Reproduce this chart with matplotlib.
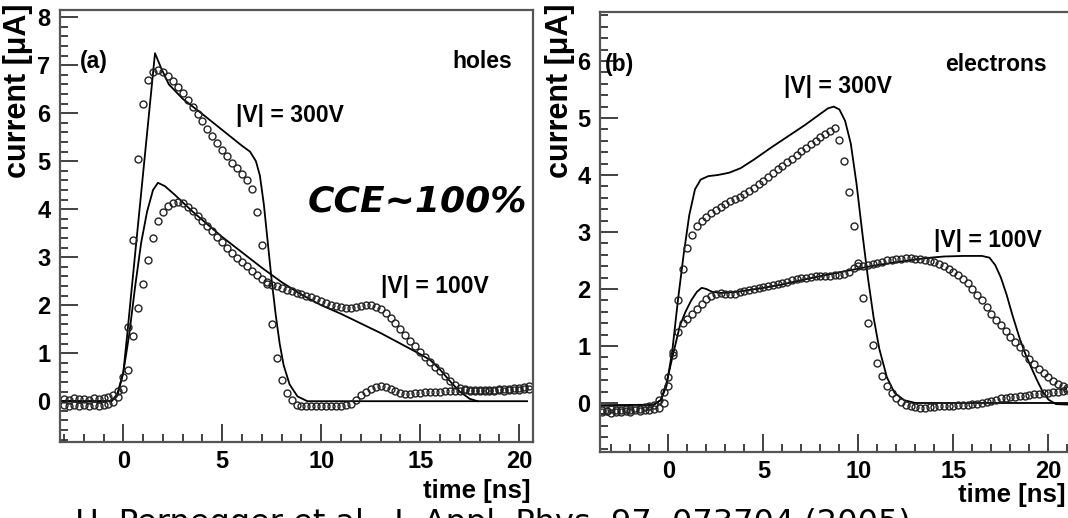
import numpy as np
import matplotlib
matplotlib.use("Agg")
import matplotlib.pyplot as plt
from matplotlib.ticker import MultipleLocator

plt.rcParams['font.family'] = ['Liberation Sans', 'DejaVu Sans']

# ---------------- data: panel (a), holes ----------------
t_a = np.arange(-3.0, 20.5 + 1e-9, 0.25)

holes_300_meas = [
    0.05, 0.03, 0.06, 0.04, 0.05, 0.03, 0.06, 0.04, 0.06, 0.08,
    0.12, 0.22, 0.50, 1.55, 3.35, 5.05, 6.20, 6.70, 6.85, 6.90,
    6.85, 6.78, 6.68, 6.55, 6.42, 6.28, 6.13, 5.98, 5.83, 5.68,
    5.53, 5.38, 5.24, 5.10, 4.97, 4.85, 4.73, 4.60, 4.42, 3.95,
    3.25, 2.45, 1.60, 0.90, 0.45, 0.18, 0.02, -0.07, -0.10, -0.11,
    -0.10, -0.11, -0.10, -0.11, -0.10, -0.10, -0.09, -0.08, -0.05, 0.02,
    0.12, 0.20, 0.26, 0.30, 0.31, 0.29, 0.25, 0.21, 0.18, 0.16,
    0.16, 0.17, 0.18, 0.19, 0.19, 0.20, 0.20, 0.21, 0.21, 0.22,
    0.22, 0.23, 0.22, 0.23, 0.23, 0.24, 0.23, 0.24, 0.25, 0.25,
    0.26, 0.27, 0.28, 0.30, 0.31,
]
holes_100_meas = [
    -0.08, -0.10, -0.07, -0.09, -0.08, -0.10, -0.07, -0.09, -0.08, -0.06,
    -0.02, 0.08, 0.25, 0.65, 1.35, 1.95, 2.45, 2.95, 3.40, 3.75,
    3.95, 4.07, 4.13, 4.15, 4.12, 4.05, 3.96, 3.86, 3.76, 3.65,
    3.54, 3.43, 3.32, 3.20, 3.09, 2.99, 2.90, 2.81, 2.72, 2.63,
    2.55, 2.48, 2.43, 2.39, 2.35, 2.32, 2.29, 2.26, 2.23, 2.20,
    2.17, 2.13, 2.09, 2.05, 2.01, 1.98, 1.96, 1.95, 1.95, 1.96,
    1.98, 2.00, 2.00, 1.97, 1.92, 1.84, 1.74, 1.62, 1.50, 1.38,
    1.26, 1.14, 1.02, 0.92, 0.82, 0.72, 0.62, 0.52, 0.42, 0.34,
    0.28, 0.25, 0.23, 0.22, 0.22, 0.21, 0.22, 0.22, 0.23, 0.22,
    0.23, 0.24, 0.24, 0.25, 0.26,
]

holes_300_sim_t = [-3.2, -0.6, -0.3, 0.0, 0.2, 0.4, 0.7, 1.0, 1.3, 1.6, 1.9, 2.3,
                   3.0, 4.0, 5.0, 6.0, 6.4, 6.7, 6.9, 7.1, 7.3, 7.5, 7.7, 7.9,
                   8.1, 8.4, 8.8, 9.3, 20.4]
holes_300_sim = [0.0, 0.0, 0.15, 0.6, 1.4, 2.25, 3.5, 4.75, 6.0, 7.25, 6.95, 6.6,
                 6.3, 5.98, 5.65, 5.32, 5.2, 5.0, 4.7, 4.1, 3.3, 2.5, 1.8, 1.2,
                 0.75, 0.35, 0.1, 0.0, 0.0]

holes_100_sim_t = [-3.2, -0.6, -0.3, 0.0, 0.3, 0.6, 0.9, 1.2, 1.5, 1.75, 2.1, 2.6,
                   3.5, 5.0, 6.0, 7.0, 8.0, 9.0, 10.0, 11.0, 12.0, 13.0, 14.0,
                   15.0, 15.5, 16.0, 16.5, 17.0, 17.5, 17.9]
holes_100_sim = [0.0, 0.0, 0.12, 0.6, 1.4, 2.4, 3.3, 3.95, 4.4, 4.55, 4.48, 4.3,
                 3.95, 3.42, 3.1, 2.78, 2.48, 2.22, 2.0, 1.82, 1.62, 1.42, 1.2,
                 0.98, 0.86, 0.66, 0.42, 0.2, 0.05, 0.0]

# ---------------- data: panel (b), electrons ----------------
t_b = np.arange(-3.5, 21.0 + 1e-9, 0.25)

elec_300_meas = [
    -0.12, -0.14, -0.11, -0.13, -0.12, -0.10, -0.12, -0.09, -0.10, -0.07, -0.06, -0.03,
    0.05, 0.20, 0.45, 0.85, 1.80, 2.35, 2.72, 2.95, 3.10, 3.19,
    3.26, 3.33, 3.39, 3.44, 3.49, 3.54, 3.58, 3.62, 3.67, 3.72,
    3.78, 3.84, 3.90, 3.97, 4.04, 4.10, 4.16, 4.22, 4.28, 4.35,
    4.42, 4.48, 4.54, 4.60, 4.66, 4.72, 4.78, 4.82, 4.62, 4.25,
    3.70, 3.10, 2.45, 1.85, 1.40, 1.02, 0.70, 0.48, 0.30, 0.17,
    0.08, 0.02, -0.03, -0.06, -0.07, -0.08, -0.08, -0.07, -0.07, -0.06,
    -0.06, -0.05, -0.05, -0.04, -0.04, -0.03, -0.02, -0.01, 0.00, 0.02,
    0.04, 0.06, 0.08, 0.09, 0.10, 0.11, 0.12, 0.13, 0.14, 0.15,
    0.16, 0.17, 0.18, 0.19, 0.20, 0.21, 0.22,
]
elec_100_meas = [
    -0.16, -0.14, -0.17, -0.15, -0.16, -0.14, -0.15, -0.13, -0.14, -0.12, -0.13, -0.10,
    -0.08, 0.00, 0.30, 0.90, 1.25, 1.40, 1.48, 1.56, 1.65, 1.73,
    1.82, 1.88, 1.92, 1.93, 1.92, 1.91, 1.92, 1.94, 1.96, 1.98,
    2.00, 2.02, 2.04, 2.05, 2.07, 2.09, 2.11, 2.13, 2.15, 2.17,
    2.19, 2.20, 2.21, 2.22, 2.22, 2.23, 2.23, 2.24, 2.25, 2.26,
    2.30, 2.36, 2.40, 2.41, 2.42, 2.44, 2.46, 2.48, 2.50, 2.51,
    2.52, 2.53, 2.54, 2.54, 2.53, 2.52, 2.51, 2.49, 2.47, 2.44,
    2.40, 2.35, 2.30, 2.24, 2.17, 2.10, 2.00, 1.90, 1.80, 1.68,
    1.57, 1.46, 1.36, 1.26, 1.16, 1.07, 0.98, 0.88, 0.78, 0.69,
    0.60, 0.52, 0.45, 0.39, 0.34, 0.30, 0.27,
]

elec_300_sim_t = [-3.6, -0.8, -0.4, -0.1, 0.2, 0.5, 0.8, 1.1, 1.4, 1.7, 2.1, 2.6,
                  3.2, 3.8, 4.5, 5.4, 6.3, 7.2, 7.9, 8.4, 8.7, 9.0, 9.3, 9.6,
                  9.9, 10.2, 10.5, 10.8, 11.1, 11.5, 11.9, 12.4, 13.0, 21.2]
elec_300_sim = [-0.04, -0.03, 0.05, 0.3, 0.9, 1.8, 2.6, 3.3, 3.75, 3.92, 3.98, 4.0,
                4.04, 4.12, 4.27, 4.48, 4.68, 4.88, 5.05, 5.17, 5.2, 5.15, 4.95, 4.55,
                3.85, 3.0, 2.2, 1.5, 0.95, 0.45, 0.18, 0.05, 0.0, 0.0]

elec_100_sim_t = [-3.6, -0.8, -0.4, -0.1, 0.25, 0.6, 0.9, 1.2, 1.5, 1.75, 2.0, 2.3,
                  2.8, 3.6, 5.0, 6.0, 7.2, 8.5, 9.9, 11.0, 12.0, 13.0, 13.8, 14.5,
                  15.5, 16.5, 16.9, 17.2, 17.5, 17.8, 18.1, 18.5, 18.8, 19.1, 19.4,
                  19.7, 20.0, 20.4, 21.2]
elec_100_sim = [-0.05, -0.04, 0.05, 0.35, 0.86, 1.35, 1.6, 1.8, 1.95, 2.02, 2.0, 1.95,
                1.93, 1.95, 2.02, 2.08, 2.17, 2.26, 2.35, 2.42, 2.47, 2.52, 2.55, 2.57,
                2.58, 2.58, 2.55, 2.42, 2.2, 1.9, 1.55, 1.12, 0.85, 0.62, 0.4,
                0.2, 0.06, -0.02, -0.03]

x_ticks = [0, 5, 10, 15, 20]

# ---------------- figure ----------------
W, H = 1068, 518
fig = plt.figure(figsize=(W / 100, H / 100), dpi=100)
fig.patch.set_facecolor('white')


def px_box(left, top, right, bottom):
    return [left / W, 1 - bottom / H, (right - left) / W, (bottom - top) / H]


ax_a = fig.add_axes(px_box(60, 10, 533, 442))
ax_b = fig.add_axes(px_box(600, 12, 1075, 452))

spine_col = '#555555'
tick_font = dict(fontsize=17, fontweight='bold')


def style(ax, ymax_tick):
    for s in ax.spines.values():
        s.set_color(spine_col)
        s.set_linewidth(1.6)
    ax.xaxis.set_major_locator(MultipleLocator(5))
    ax.xaxis.set_minor_locator(MultipleLocator(1))
    ax.yaxis.set_major_locator(MultipleLocator(1))
    ax.yaxis.set_minor_locator(MultipleLocator(0.2))
    ax.tick_params(which='both', direction='in', top=False, right=False,
                   color='#333333', width=1.3)
    ax.tick_params(which='major', length=13)
    ax.tick_params(which='minor', length=6)
    ax.tick_params(axis='y', which='major', pad=7)
    ax.tick_params(axis='x', which='major', pad=6)
    ax.set_xticks(x_ticks)
    ax.set_xticklabels([str(v) for v in x_ticks], **tick_font)
    yt = list(range(0, ymax_tick + 1))
    ax.set_yticks(yt)
    ax.set_yticklabels([str(v) for v in yt], **tick_font)


marker_kw = dict(linestyle='none', marker='o', markersize=5.0, markerfacecolor='none',
                 markeredgecolor='#222222', markeredgewidth=1.0)
line_kw = dict(color='black', linewidth=1.3)

# panel (a)
ax_a.plot(holes_300_sim_t, holes_300_sim, **line_kw)
ax_a.plot(holes_100_sim_t, holes_100_sim, **line_kw)
ax_a.plot(t_a, holes_300_meas, **marker_kw)
ax_a.plot(t_a, holes_100_meas, **marker_kw)
ax_a.set_xlim(-3.2, 20.7)
ax_a.set_ylim(-0.85, 8.15)
style(ax_a, 8)

# panel (b)
ax_b.plot(elec_300_sim_t, elec_300_sim, **line_kw)
ax_b.plot(elec_100_sim_t, elec_100_sim, **line_kw)
ax_b.plot(t_b, elec_300_meas, **marker_kw)
ax_b.plot(t_b, elec_100_meas, **marker_kw)
ax_b.set_xlim(-3.6, 21.4)
ax_b.set_ylim(-0.86, 6.86)
style(ax_b, 6)

txt = dict(fontsize=16.5, fontweight='bold', color='black')

ax_a.text(0.043, 0.88, '(a)', transform=ax_a.transAxes, ha='left', va='center', **txt)
ax_a.text(0.955, 0.88, 'holes', transform=ax_a.transAxes, ha='right', va='center', **txt)
ax_a.text(5.7, 5.95, '|V| = 300V', ha='left', va='center', **txt)
ax_a.text(13.0, 2.4, '|V| = 100V', ha='left', va='center', **txt)
ax_a.text(9.3, 4.15, 'CCE~100%', ha='left', va='center', fontsize=26,
          fontweight='bold', fontstyle='italic', family=['DejaVu Sans'])

ax_b.text(0.01, 0.88, '(b)', transform=ax_b.transAxes, ha='left', va='center', **txt)
ax_b.text(0.94, 0.88, 'electrons', transform=ax_b.transAxes, ha='right', va='center', **txt)
ax_b.text(6.1, 5.55, '|V| = 300V', ha='left', va='center', **txt)
ax_b.text(14.0, 2.85, '|V| = 100V', ha='left', va='center', **txt)

# axis titles, placed at the top / right ends in the ROOT manner
fig.text(18 / W, 1 - 4 / H, 'current [\u03bcA]', rotation=90, ha='center', va='top',
         fontsize=22, fontweight='bold', color='black')
fig.text(560 / W, 1 - 4 / H, 'current [\u03bcA]', rotation=90, ha='center', va='top',
         fontsize=22, fontweight='bold', color='black')
fig.text(531 / W, 1 - 491 / H, 'time [ns]', ha='right', va='center',
         fontsize=18.5, fontweight='bold', color='black')
fig.text(1066 / W, 1 - 495 / H, 'time [ns]', ha='right', va='center',
         fontsize=18.5, fontweight='bold', color='black')

# reference line running off the bottom edge
fig.text(75 / W, 1 - 532 / H, 'H. Pernegger et al., J. Appl. Phys. 97, 073704 (2005)',
         ha='left', va='baseline', fontsize=23, family=['DejaVu Sans'], color='black')

fig.savefig('out.png', dpi=100, facecolor='white')
